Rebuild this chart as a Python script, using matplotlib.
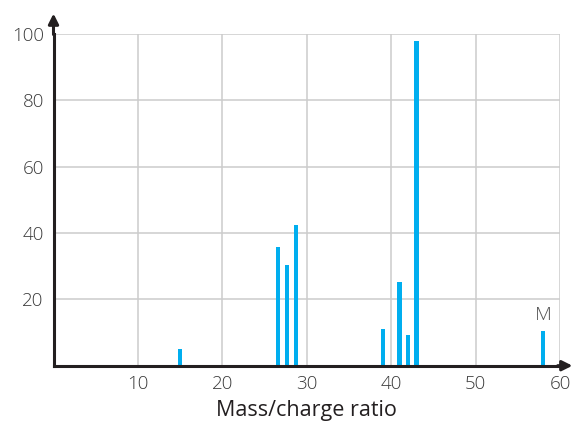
import matplotlib
matplotlib.use("Agg")
import matplotlib.pyplot as plt

mz = [15, 26.6, 27.7, 28.7, 39, 41, 42, 43, 58]
abundance = [4.9, 35.7, 30.3, 42.5, 11.0, 25.2, 9.3, 98.0, 10.5]
xticks = [10, 20, 30, 40, 50, 60]
yticks = [20, 40, 60, 80, 100]
xlabel = "Mass/charge ratio"
peak_label = "M"

plt.rcParams['font.family'] = ['Open Sans', 'DejaVu Sans']

fig = plt.figure(figsize=(5.76, 4.25), dpi=100)
ax = fig.add_axes([53.5/576, 1-365.7/425, (560-53.5)/576, (365.7-34)/425])

bar_color = "#00aeef"
ax.bar(mz, abundance, width=0.5, color=bar_color, zorder=3)

ax.set_xlim(0, 60)
ax.set_ylim(0, 100)
ax.set_xticks(xticks)
ax.set_yticks(yticks)
ax.grid(True, color="#cccccc", linewidth=1.1, zorder=0)
ax.tick_params(length=0, labelsize=13.5, colors="#3a3a3a", pad=7)
for lab in ax.get_xticklabels() + ax.get_yticklabels():
    lab.set_fontweight("light")
for s in ["top", "right"]:
    ax.spines[s].set_visible(False)
for s in ["left", "bottom"]:
    ax.spines[s].set_linewidth(2.2)
    ax.spines[s].set_color("#231f20")
    ax.spines[s].set_zorder(4)

ax.set_xlabel(xlabel, fontsize=15.5, color="#231f20", labelpad=5)

# arrows
ax.annotate("", xy=(0, 1.07), xytext=(0, 0.99), xycoords="axes fraction",
            arrowprops=dict(arrowstyle="-|>,head_length=0.6,head_width=0.3",
                            color="#231f20", lw=2.2), annotation_clip=False)
ax.annotate("", xy=(1.03, 0), xytext=(0.99, 0), xycoords="axes fraction",
            arrowprops=dict(arrowstyle="-|>,head_length=0.6,head_width=0.3",
                            color="#231f20", lw=2.2), annotation_clip=False)

ax.text(mz[-1], abundance[-1] + 2, peak_label, ha="center", va="bottom",
        fontsize=14, color="#555555", fontweight="light")

fig.savefig("out.png", dpi=100)
